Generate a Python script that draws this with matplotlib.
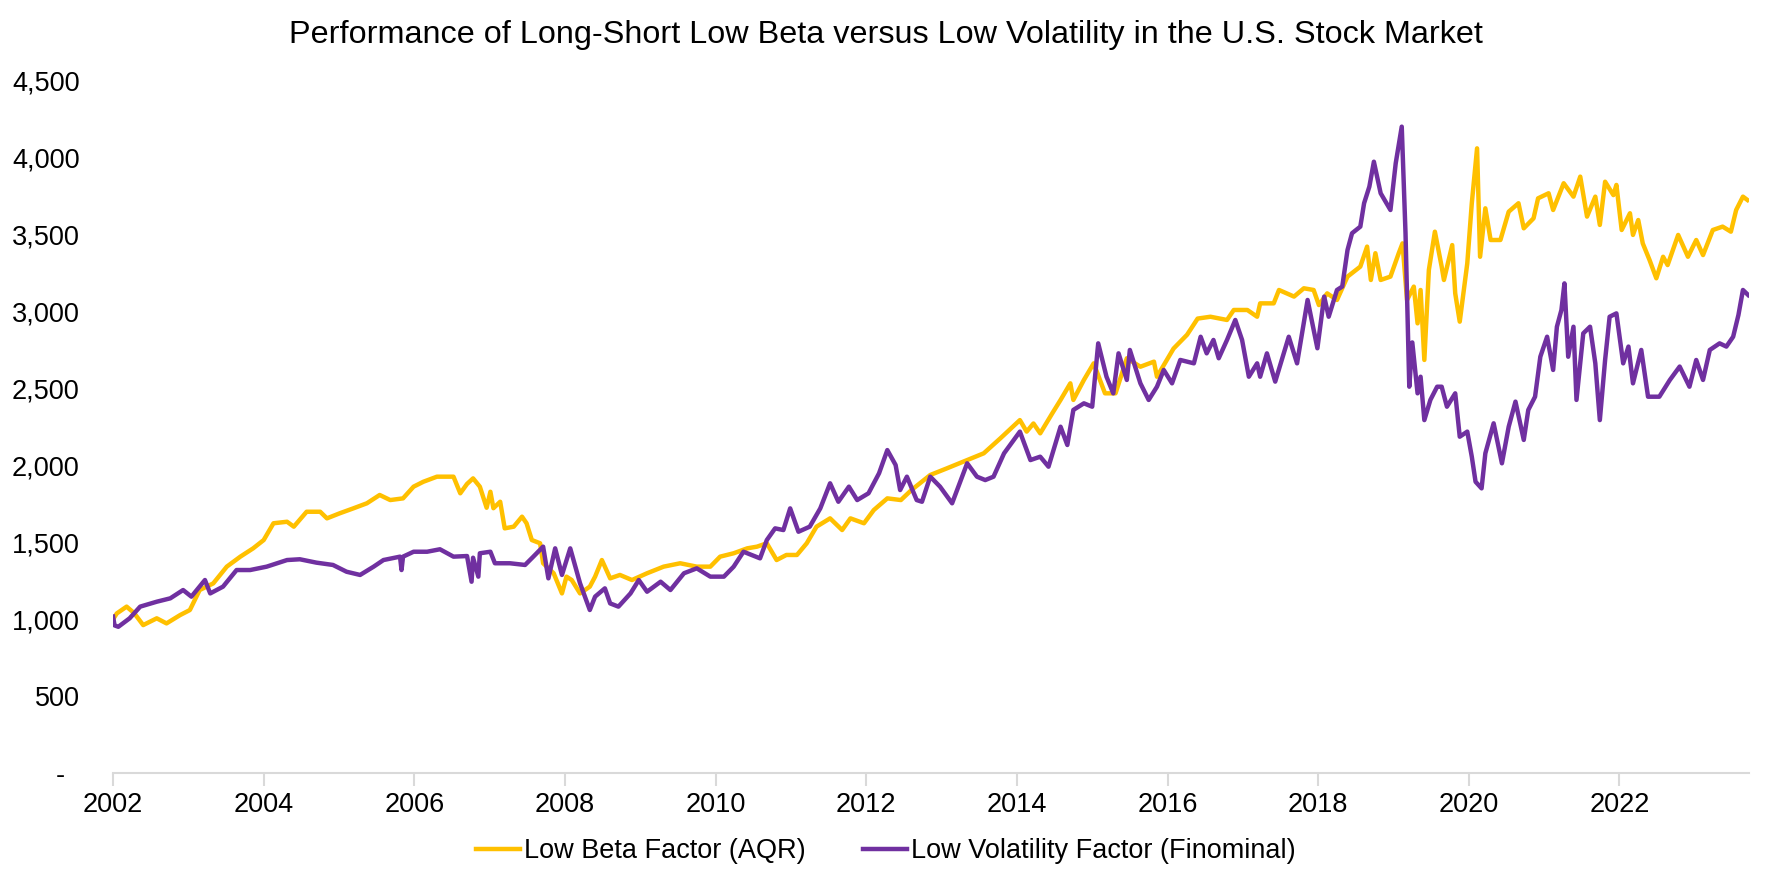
"""
Long-short low beta vs low volatility, U.S. stock market (values read off the reference chart).
"""

import matplotlib
matplotlib.use("Agg")
import matplotlib.pyplot as plt

plt.rcParams["font.family"] = ["Liberation Sans", "DejaVu Sans"]

# ---------------------------------------------------------------------------
# Data (fractional years, index level)
# ---------------------------------------------------------------------------

lb_years = [
    2002.00, 2002.05, 2002.18, 2002.28, 2002.40, 2002.58, 2002.71, 2002.89, 2003.02, 2003.15,
    2003.33, 2003.51, 2003.69, 2003.86, 2004.00, 2004.13, 2004.31, 2004.40, 2004.57, 2004.75,
    2004.84, 2005.01, 2005.19, 2005.37, 2005.54, 2005.68, 2005.85, 2005.99, 2006.12, 2006.30,
    2006.52, 2006.61, 2006.70, 2006.78, 2006.87, 2006.96, 2007.01, 2007.05, 2007.14, 2007.20,
    2007.32, 2007.43, 2007.49, 2007.56, 2007.67, 2007.71, 2007.78, 2007.85, 2007.96, 2008.02,
    2008.09, 2008.20, 2008.33, 2008.40, 2008.49, 2008.60, 2008.73, 2008.89, 2009.09, 2009.31,
    2009.53, 2009.75, 2009.93, 2010.06, 2010.24, 2010.42, 2010.55, 2010.68, 2010.81, 2010.94,
    2011.08, 2011.21, 2011.34, 2011.52, 2011.68, 2011.79, 2011.97, 2012.10, 2012.28, 2012.46,
    2012.60, 2012.85, 2013.07, 2013.34, 2013.56, 2013.78, 2014.04, 2014.13, 2014.22, 2014.31,
    2014.47, 2014.58, 2014.71, 2014.75, 2014.89, 2015.02, 2015.17, 2015.31, 2015.46, 2015.64,
    2015.82, 2015.86, 2016.08, 2016.26, 2016.40, 2016.57, 2016.79, 2016.88, 2017.06, 2017.19,
    2017.23, 2017.41, 2017.48, 2017.68, 2017.81, 2017.94, 2018.01, 2018.12, 2018.25, 2018.39,
    2018.56, 2018.65, 2018.70, 2018.76, 2018.83, 2018.96, 2019.07, 2019.12, 2019.18, 2019.27,
    2019.32, 2019.36, 2019.41, 2019.47, 2019.55, 2019.64, 2019.67, 2019.78, 2019.82, 2019.88,
    2019.98, 2020.04, 2020.11, 2020.15, 2020.22, 2020.29, 2020.42, 2020.53, 2020.66, 2020.73,
    2020.86, 2020.92, 2021.06, 2021.12, 2021.26, 2021.39, 2021.48, 2021.57, 2021.68, 2021.74,
    2021.81, 2021.92, 2021.96, 2022.03, 2022.14, 2022.18, 2022.25, 2022.31, 2022.40, 2022.49,
    2022.58, 2022.64, 2022.78, 2022.91, 2023.02, 2023.11, 2023.24, 2023.37, 2023.48, 2023.55,
    2023.64, 2023.70,
]
lb_values = [
    1000, 1038, 1082, 1040, 962, 1006, 973, 1027, 1060, 1190,
    1233, 1342, 1407, 1461, 1515, 1624, 1634, 1602, 1699, 1699,
    1656, 1689, 1721, 1754, 1808, 1775, 1786, 1862, 1894, 1927,
    1927, 1819, 1880, 1916, 1862, 1725, 1829, 1722, 1764, 1591,
    1602, 1667, 1624, 1515, 1494, 1364, 1331, 1299, 1168, 1277,
    1255, 1168, 1212, 1277, 1385, 1266, 1288, 1255, 1299, 1342,
    1364, 1342, 1342, 1407, 1429, 1461, 1472, 1494, 1385, 1418,
    1418, 1494, 1602, 1656, 1580, 1656, 1624, 1710, 1786, 1775,
    1840, 1938, 1981, 2035, 2079, 2176, 2295, 2220, 2273, 2209,
    2339, 2426, 2534, 2426, 2556, 2664, 2469, 2469, 2697, 2642,
    2675, 2577, 2760, 2850, 2955, 2967, 2946, 3011, 3011, 2967,
    3054, 3054, 3141, 3098, 3152, 3141, 3043, 3119, 3076, 3228,
    3293, 3423, 3206, 3380, 3206, 3228, 3380, 3444, 3076, 3163,
    2924, 3141, 2686, 3271, 3520, 3293, 3206, 3433, 3119, 2935,
    3314, 3705, 4062, 3357, 3672, 3466, 3466, 3650, 3705, 3542,
    3607, 3737, 3770, 3661, 3835, 3748, 3878, 3618, 3748, 3564,
    3845, 3758, 3824, 3531, 3640, 3499, 3596, 3444, 3336, 3217,
    3357, 3303, 3499, 3357, 3466, 3368, 3531, 3553, 3520, 3661,
    3748, 3726,
]

lv_years = [
    2002.00, 2002.02, 2002.07, 2002.22, 2002.36, 2002.58, 2002.76, 2002.93, 2003.04, 2003.22,
    2003.29, 2003.46, 2003.64, 2003.82, 2004.04, 2004.31, 2004.48, 2004.70, 2004.92, 2005.10,
    2005.28, 2005.46, 2005.59, 2005.81, 2005.83, 2005.85, 2005.99, 2006.17, 2006.34, 2006.52,
    2006.70, 2006.76, 2006.78, 2006.85, 2006.87, 2007.01, 2007.07, 2007.27, 2007.47, 2007.58,
    2007.71, 2007.78, 2007.87, 2007.96, 2008.07, 2008.20, 2008.33, 2008.40, 2008.53, 2008.60,
    2008.71, 2008.87, 2008.98, 2009.09, 2009.27, 2009.40, 2009.58, 2009.75, 2009.93, 2010.11,
    2010.24, 2010.37, 2010.59, 2010.68, 2010.79, 2010.90, 2010.99, 2011.10, 2011.25, 2011.39,
    2011.52, 2011.63, 2011.77, 2011.88, 2012.03, 2012.17, 2012.28, 2012.39, 2012.45, 2012.54,
    2012.67, 2012.74, 2012.85, 2012.98, 2013.14, 2013.34, 2013.47, 2013.58, 2013.69, 2013.83,
    2014.04, 2014.18, 2014.31, 2014.42, 2014.58, 2014.67, 2014.75, 2014.89, 2015.00, 2015.08,
    2015.19, 2015.28, 2015.35, 2015.46, 2015.50, 2015.64, 2015.75, 2015.86, 2015.95, 2016.06,
    2016.17, 2016.35, 2016.44, 2016.52, 2016.61, 2016.68, 2016.79, 2016.90, 2016.99, 2017.08,
    2017.19, 2017.23, 2017.32, 2017.43, 2017.61, 2017.72, 2017.86, 2017.99, 2018.08, 2018.14,
    2018.25, 2018.32, 2018.39, 2018.45, 2018.56, 2018.61, 2018.68, 2018.74, 2018.83, 2018.96,
    2019.03, 2019.11, 2019.16, 2019.21, 2019.25, 2019.32, 2019.36, 2019.41, 2019.49, 2019.58,
    2019.64, 2019.71, 2019.82, 2019.88, 2019.98, 2020.04, 2020.09, 2020.17, 2020.22, 2020.33,
    2020.44, 2020.53, 2020.62, 2020.73, 2020.79, 2020.88, 2020.95, 2021.04, 2021.12, 2021.17,
    2021.23, 2021.27, 2021.32, 2021.39, 2021.43, 2021.52, 2021.61, 2021.68, 2021.74, 2021.81,
    2021.87, 2021.96, 2022.05, 2022.12, 2022.18, 2022.29, 2022.38, 2022.53, 2022.67, 2022.80,
    2022.93, 2023.02, 2023.11, 2023.20, 2023.33, 2023.42, 2023.51, 2023.58, 2023.64, 2023.71,
]
lv_values = [
    1017, 960, 951, 1006, 1082, 1114, 1136, 1190, 1147, 1255,
    1168, 1212, 1320, 1320, 1342, 1385, 1390, 1368, 1353, 1309,
    1288, 1342, 1385, 1407, 1320, 1407, 1439, 1439, 1455, 1407,
    1411, 1244, 1400, 1277, 1429, 1439, 1364, 1364, 1353, 1407,
    1472, 1266, 1461, 1288, 1461, 1234, 1060, 1147, 1201, 1103,
    1082, 1168, 1255, 1179, 1244, 1190, 1299, 1331, 1277, 1277,
    1342, 1439, 1396, 1515, 1591, 1580, 1721, 1569, 1602, 1721,
    1884, 1764, 1862, 1775, 1819, 1949, 2100, 2003, 1840, 1927,
    1775, 1764, 1927, 1862, 1754, 2014, 1927, 1905, 1927, 2079,
    2220, 2035, 2057, 1992, 2252, 2133, 2361, 2404, 2382, 2794,
    2577, 2469, 2729, 2556, 2751, 2534, 2426, 2512, 2621, 2534,
    2686, 2664, 2837, 2729, 2816, 2697, 2816, 2946, 2816, 2577,
    2664, 2577, 2729, 2545, 2837, 2664, 3076, 2762, 3098, 2967,
    3141, 3163, 3401, 3510, 3553, 3705, 3813, 3975, 3770, 3661,
    3965, 4203, 3510, 2512, 2800, 2469, 2577, 2295, 2426, 2512,
    2512, 2382, 2469, 2187, 2220, 2057, 1894, 1851, 2079, 2274,
    2014, 2252, 2415, 2166, 2361, 2447, 2707, 2837, 2621, 2902,
    3011, 3184, 2707, 2902, 2426, 2859, 2902, 2664, 2295, 2686,
    2967, 2989, 2664, 2773, 2534, 2751, 2447, 2447, 2556, 2643,
    2512, 2686, 2556, 2751, 2794, 2773, 2837, 2978, 3141, 3108,
]

year_ticks = list(range(2002, 2023, 2))
value_ticks = list(range(0, 4501, 500))

YELLOW = "#FFC000"
PURPLE = "#7030A0"
AXIS_GRAY = "#D9D9D9"

# ---------------------------------------------------------------------------
# Plot
# ---------------------------------------------------------------------------

fig = plt.figure(figsize=(17.72, 8.86), dpi=100)
ax = fig.add_axes([0.0638, 0.1275, 0.9232, 0.7811])

ax.plot(lb_years, lb_values, color=YELLOW, linewidth=3.2, label="Low Beta Factor (AQR)")
ax.plot(lv_years, lv_values, color=PURPLE, linewidth=3.2, label="Low Volatility Factor (Finominal)")

ax.set_xlim(2002, 2023.72)
ax.set_ylim(0, 4500)

ax.set_xticks(year_ticks)
ax.set_xticklabels([str(y) for y in year_ticks])
ax.set_yticks(value_ticks)
ax.set_yticklabels(["-  " if v == 0 else f"{v:,}" for v in value_ticks])

for side in ["top", "right", "left"]:
    ax.spines[side].set_visible(False)
ax.spines["bottom"].set_color(AXIS_GRAY)
ax.spines["bottom"].set_linewidth(1.5)

ax.tick_params(axis="x", colors=AXIS_GRAY, labelcolor="black", length=9, width=1.5,
               pad=5, labelsize=19.5)
ax.tick_params(axis="y", length=0, pad=24, labelsize=19.5)

fig.text(0.5, 0.9515, "Performance of Long-Short Low Beta versus Low Volatility in the U.S. Stock Market",
         ha="center", va="baseline", fontsize=23.3)

fig.legend(loc="center", bbox_to_anchor=(0.5, 0.039), ncol=2, frameon=False, fontsize=19.5,
           handlelength=1.63, handletextpad=0.15, columnspacing=2.1)

plt.savefig("out.png", dpi=100)
plt.close()
